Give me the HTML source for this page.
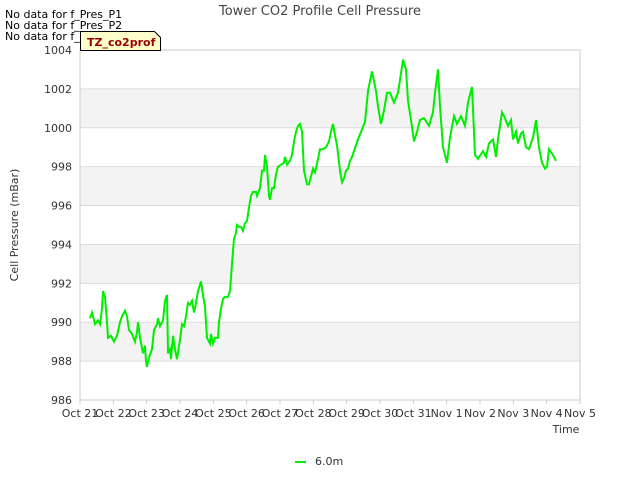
<!DOCTYPE html>
<html><head><meta charset="utf-8"><style>
body{margin:0;background:#fff;}
svg{font-family:"DejaVu Sans","Liberation Sans",sans-serif;}
</style></head><body>
<svg id="chart" width="640" height="480" xmlns="http://www.w3.org/2000/svg">
<rect width="640" height="480" fill="#fff"/>
<g id="bands"></g>
<g id="grid"></g>
<rect x="80" y="50" width="500" height="350" fill="none" stroke="#ccc"/>
<g id="yticks" font-size="11" fill="#333" text-anchor="end"></g>
<g id="xticks" font-size="11" fill="#333" text-anchor="middle"></g>
<path id="series" fill="none" stroke="#00ee00" stroke-width="2"/>
<text x="320" y="15" text-anchor="middle" font-size="13" fill="#444">Tower CO2 Profile Cell Pressure</text>
<text x="18" y="225" text-anchor="middle" font-size="11" fill="#333" transform="rotate(-90 18 225)">Cell Pressure (mBar)</text>
<text x="566" y="433" text-anchor="middle" font-size="11" fill="#333">Time</text>
<text x="5" y="18" font-size="11" fill="#000">No data for f_Pres_P1</text>
<text x="5" y="29" font-size="11" fill="#000">No data for f_Pres_P2</text>
<text x="5" y="40" font-size="11" fill="#000">No data for f_Pres_P4</text>
<g>
<path d="M80.5,31.5 H154.5 L160.5,37.5 V50.5 H80.5 Z" fill="#ffffcc" stroke="#000"/>
<text x="87" y="46" font-size="11" font-weight="bold" fill="#990000">TZ_co2prof</text>
</g>
<g>
<line x1="295" y1="462" x2="306" y2="462" stroke="#00ee00" stroke-width="2"/>
<text x="315" y="465" font-size="11" fill="#333">6.0m</text>
</g>
</svg>
<script>
const days=[0.30,0.36,0.45,0.54,0.60,0.66,0.69,0.75,0.81,0.84,0.93,1.02,1.11,1.20,1.26,1.35,1.41,1.47,1.56,1.65,1.71,1.74,1.80,1.89,1.95,1.98,2.01,2.07,2.16,2.22,2.31,2.34,2.40,2.49,2.55,2.61,2.64,2.70,2.73,2.79,2.85,2.91,3.00,3.06,3.12,3.18,3.24,3.30,3.36,3.42,3.48,3.54,3.63,3.69,3.75,3.81,3.90,3.93,3.99,4.05,4.14,4.17,4.23,4.29,4.35,4.44,4.50,4.56,4.62,4.68,4.71,4.77,4.83,4.89,4.95,5.01,5.07,5.13,5.19,5.28,5.31,5.40,5.46,5.52,5.55,5.61,5.67,5.70,5.76,5.82,5.88,5.94,6.03,6.12,6.15,6.21,6.30,6.36,6.42,6.48,6.54,6.60,6.66,6.72,6.81,6.87,6.93,6.99,7.05,7.14,7.20,7.29,7.38,7.47,7.53,7.59,7.65,7.71,7.80,7.86,7.92,7.98,8.04,8.10,8.16,8.34,8.55,8.64,8.76,8.88,8.94,9.03,9.12,9.21,9.30,9.42,9.54,9.63,9.69,9.78,9.84,9.93,10.02,10.11,10.20,10.32,10.47,10.59,10.65,10.74,10.80,10.89,11.01,11.10,11.22,11.31,11.43,11.55,11.64,11.76,11.85,11.94,12.09,12.18,12.27,12.39,12.48,12.54,12.66,12.75,12.84,12.93,12.99,13.08,13.14,13.23,13.29,13.38,13.47,13.59,13.68,13.77,13.86,13.95,14.01,14.07,14.19,14.28];
const pressure=[990.2,990.5,989.9,990.1,989.9,990.7,991.6,991.3,990.0,989.2,989.3,989.0,989.3,990.0,990.3,990.6,990.3,989.6,989.4,989.0,989.5,990.0,989.2,988.4,988.8,988.0,987.7,988.2,988.6,989.6,989.9,990.2,989.8,990.1,991.1,991.4,988.4,988.6,988.1,989.3,988.6,988.1,989.1,989.9,989.8,990.3,991.0,990.9,991.1,990.5,991.0,991.6,992.1,991.4,990.8,989.2,988.9,989.4,988.9,989.2,989.2,990.0,990.7,991.2,991.3,991.3,991.6,993.0,994.3,994.6,995.0,994.9,994.9,994.7,995.1,995.2,995.9,996.5,996.7,996.7,996.5,996.9,997.8,997.8,998.6,998.0,996.5,996.3,996.9,996.9,997.6,998.0,998.1,998.2,998.5,998.1,998.3,998.6,999.3,999.8,1000.1,1000.2,999.8,997.8,997.1,997.1,997.5,997.9,997.7,998.4,998.9,998.9,999.0,999.3,999.8,1000.2,999.6,999.1,997.8,997.2,997.4,997.8,997.9,998.3,998.5,999.4,1000.3,1001.9,1002.9,1001.9,1001.1,1000.2,1000.9,1001.8,1001.8,1001.3,1001.8,1002.8,1003.5,1003.0,1001.4,1000.4,999.3,999.8,1000.4,1000.5,1000.1,1000.8,1001.8,1003.0,1001.1,999.0,998.2,999.5,1000.6,1000.2,1000.6,1000.1,1001.3,1002.1,998.6,998.4,998.8,998.5,999.2,999.4,998.5,999.4,1000.8,1000.5,1000.1,1000.4,999.4,999.8,999.2,999.7,999.8,999.0,998.9,999.5,1000.4,999.0,998.2,997.9,998.0,998.9,998.6,998.3];
const yTicks=[986,988,990,992,994,996,998,1000,1002,1004];
const xTickLabels=["Oct 21","Oct 22","Oct 23","Oct 24","Oct 25","Oct 26","Oct 27","Oct 28","Oct 29","Oct 30","Oct 31","Nov 1","Nov 2","Nov 3","Nov 4","Nov 5"];
const X0=80,X1=580,Y0=400,Y1=50,YMIN=986,YMAX=1004,DMAX=15;
const xs=d=>X0+(X1-X0)*d/DMAX;
const ys=v=>Y0-(Y0-Y1)*(v-YMIN)/(YMAX-YMIN);
const NS="http://www.w3.org/2000/svg";
const bands=document.getElementById('bands'),grid=document.getElementById('grid'),yt=document.getElementById('yticks'),xt=document.getElementById('xticks');
for(let i=0;i<yTicks.length-1;i++){
  if(i%2===1){
    const r=document.createElementNS(NS,'rect');
    r.setAttribute('x',X0);r.setAttribute('width',X1-X0);
    r.setAttribute('y',ys(yTicks[i+1]));r.setAttribute('height',ys(yTicks[i])-ys(yTicks[i+1]));
    r.setAttribute('fill','#f3f3f3');
    
    
    bands.appendChild(r);
  }
}
yTicks.forEach(v=>{
  const l=document.createElementNS(NS,'line');
  l.setAttribute('x1',X0);l.setAttribute('x2',X1);l.setAttribute('y1',ys(v));l.setAttribute('y2',ys(v));
  l.setAttribute('stroke','#ddd');
  
  
  grid.appendChild(l);
  const t=document.createElementNS(NS,'text');
  t.setAttribute('x',X0-8);t.setAttribute('y',ys(v)+4);t.textContent=v;
  
  
  yt.appendChild(t);
});
xTickLabels.forEach((s,i)=>{
  const l=document.createElementNS(NS,'line');
  l.setAttribute('x1',xs(i));l.setAttribute('x2',xs(i));l.setAttribute('y1',Y0);l.setAttribute('y2',Y0+4);
  l.setAttribute('stroke','#ccc');
  
  
  xt.appendChild(l);
  const t=document.createElementNS(NS,'text');
  t.setAttribute('x',xs(i));t.setAttribute('y',Y0+17);t.textContent=s;
  
  
  xt.appendChild(t);
});
document.getElementById('series').setAttribute('d',days.map((d,i)=>(i?'L':'M')+xs(d).toFixed(1)+','+ys(pressure[i]).toFixed(1)).join(''));
</script>
</body></html>
